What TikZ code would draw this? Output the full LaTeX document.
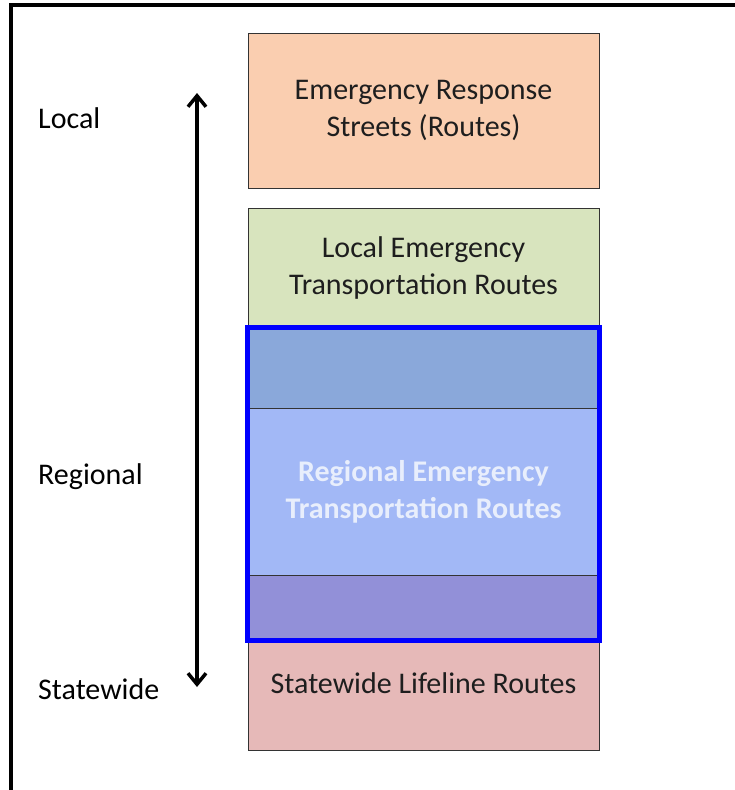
\documentclass[tikz,border=0pt]{standalone}
\usepackage{fontspec}
\setmainfont{Carlito}
\usepackage{xcolor}
\definecolor{erorange}{RGB}{250,206,176}
\definecolor{ergreen}{RGB}{216,228,190}
\definecolor{erbluetop}{RGB}{138,168,218}
\definecolor{erbluemid}{RGB}{162,184,246}
\definecolor{erbluebot}{RGB}{146,144,216}
\definecolor{erred}{RGB}{230,185,184}
\definecolor{ertext}{RGB}{30,30,30}
\definecolor{erwhite}{RGB}{232,238,252}
\usetikzlibrary{arrows.meta,positioning,calc}

\begin{document}
\begin{tikzpicture}[x=1pt, y=-1pt,
        tierbox/.style={rectangle, draw=black!80, line width=1pt, minimum width=351pt,
                        inner sep=0pt, align=center, text=ertext,
                        font=\fontsize{30}{37}\selectfont},
        band/.style={rectangle, draw=black!80, line width=0.8pt, minimum width=351pt,
                     inner sep=0pt, align=center, font=\fontsize{30}{37}\selectfont},
        sidelbl/.style={anchor=base west, inner sep=0pt, font=\fontsize{30}{37}\selectfont},
        regline/.style={draw=blue, line width=5pt},
        scaleline/.style={line width=3.5pt, {Straight Barb[length=11pt,width=18pt]}-{Straight Barb[length=11pt,width=18pt]}}
      ]
        \useasboundingbox (0,0) rectangle (735,790);
        % frame, only left and top edges
        \draw[line width=4pt] (10.5,790) -- (10.5,4.5) -- (735,4.5);

        % tiers
        \node[tierbox, fill=erorange, minimum height=155pt] (response) at (423.5,110.5)
          {Emergency Response\\Streets (Routes)};
        \node[tierbox, fill=ergreen, minimum height=120pt] (localetr) at (423.5,268)
          {Local Emergency\\Transportation Routes};
        \node[band, fill=erbluetop, minimum height=80pt] (regtop) at (423.5,368) {};
        \node[band, fill=erbluemid, minimum height=167pt, text=erwhite] (regmid) at (423.5,491.5)
          {\bfseries Regional Emergency\\\bfseries Transportation Routes};
        \node[band, fill=erbluebot, minimum height=65pt] (regbot) at (423.5,607.5) {};
        \node[tierbox, fill=erred, minimum height=110pt] (lifeline) at (423.5,695) {};
        \node[tierbox, draw=none, fill=none, yshift=12pt] (lifelinetxt) at (lifeline.center)
          {Statewide Lifeline Routes};
        \draw[regline] (regtop.north west) rectangle (regbot.south east);

        % scale on the left
        \node[sidelbl] (lbllocal) at (38,128) {Local};
        \node[sidelbl] (lblregional) at (38,484) {Regional};
        \node[sidelbl] (lblstate) at (38,699) {Statewide};
        \coordinate (scaletop) at (197,93);
        \coordinate (scalebot) at (197,687);
        \draw[scaleline] (scalebot) -- (scaletop);
      \end{tikzpicture}
\end{document}
